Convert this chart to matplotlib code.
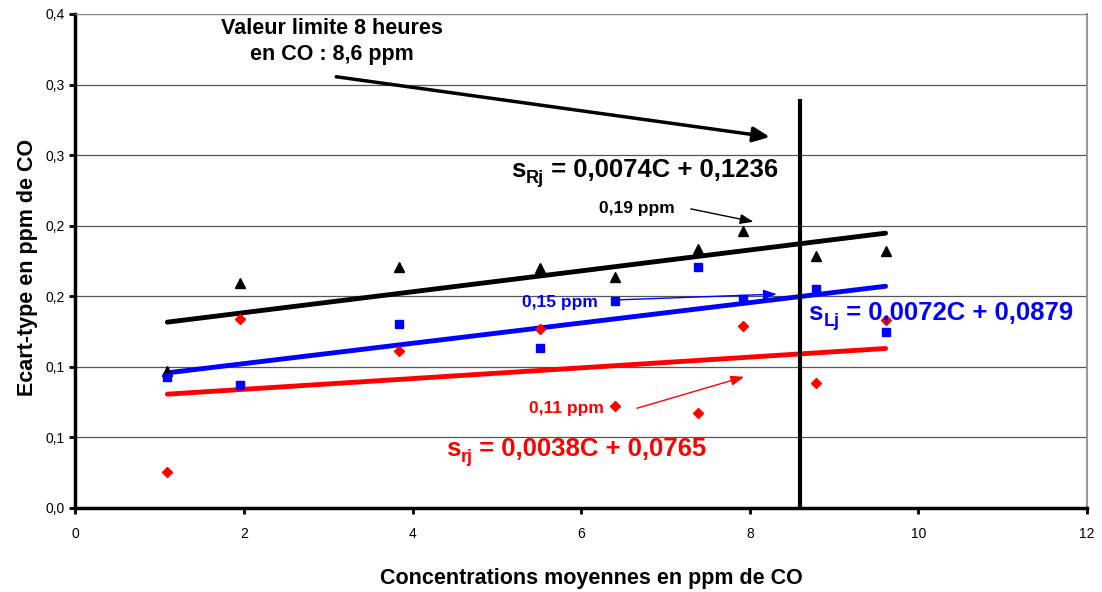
import matplotlib
matplotlib.use("Agg")
import matplotlib.pyplot as plt
import numpy as np

plt.rcParams['font.family'] = ['Liberation Sans', 'DejaVu Sans']

# Data
conc = [1.09, 1.95, 3.84, 5.51, 6.40, 7.39, 7.92, 8.79, 9.61]
s_R = [0.0973, 0.1592, 0.1710, 0.1698, 0.1639, 0.1835, 0.1965, 0.1785, 0.1823]
s_L = [0.0930, 0.0871, 0.1304, 0.1131, 0.1469, 0.1710, 0.1481, 0.1549, 0.1249]
s_r = [0.0257, 0.1337, 0.1112, 0.1266, 0.0723, 0.0675, 0.1289, 0.0888, 0.1332]

fit_R = (0.0074, 0.1236)
fit_L = (0.0072, 0.0879)
fit_r = (0.0038, 0.0765)

limit_value = 8.6
limit_top = 0.288

xticks = [0, 2, 4, 6, 8, 10, 12]
yticks = [0.0, 0.05, 0.10, 0.15, 0.20, 0.25, 0.30, 0.35]
ytick_labels = ["0,0", "0,1", "0,1", "0,2", "0,2", "0,3", "0,3", "0,4"]

fig = plt.figure(figsize=(11.02, 5.92), dpi=100)
ax = fig.add_axes([0.0685, 0.1419, 0.9179, 0.8345])

ax.set_xlim(0, 12)
ax.set_ylim(0, 0.35)
ax.set_yticks(yticks)
ax.set_yticklabels(ytick_labels)
ax.set_xticks(xticks)
ax.set_xticklabels([str(t) for t in xticks])
ax.tick_params(axis='both', direction='out', length=4, width=2, labelsize=10, color='black')
ax.tick_params(axis='x', pad=10)

for y in yticks[1:]:
    ax.axhline(y, color='#555555', lw=0.9, zorder=0)
ax.axhline(0.35, color='#888888', lw=1.2, zorder=0)

ax.spines['left'].set_linewidth(2.5)
ax.spines['bottom'].set_linewidth(2.5)
ax.spines['top'].set_color('#888888')
ax.spines['right'].set_color('#999999')
ax.spines['right'].set_linewidth(1.5)

xf = np.array([conc[0], conc[-1]])
ax.plot(xf, fit_R[0] * xf + fit_R[1], color='black', lw=3.5, solid_capstyle='round', zorder=3)
ax.plot(xf, fit_L[0] * xf + fit_L[1], color='#0000ff', lw=3.5, solid_capstyle='round', zorder=3)
ax.plot(xf, fit_r[0] * xf + fit_r[1], color='#ff0000', lw=3.5, solid_capstyle='round', zorder=3)

ax.plot(conc, s_R, linestyle='none', marker='^', color='black', ms=7, zorder=4)
ax.plot(conc, s_L, linestyle='none', marker='s', color='#0000ff', ms=6, zorder=4)
ax.plot(conc, s_r, linestyle='none', marker='D', color='#ff0000', ms=5.5, zorder=4)

ax.plot([limit_value, limit_value], [0, limit_top], color='black', lw=3, zorder=5)


def equation(x, y, sub, rest, color):
    t1 = ax.text(x, y, "s", ha='left', va='bottom', fontsize=18.5, fontweight='bold', color=color, zorder=6)
    t2 = ax.annotate(sub, xy=(1, 0), xycoords=t1, xytext=(0.3, -3.5), textcoords='offset points',
                     ha='left', va='bottom', fontsize=13, fontweight='bold', color=color, zorder=6)
    ax.annotate(rest, xy=(1, 0), xycoords=(t2, t1), xytext=(0, 0), textcoords='offset points',
                ha='left', va='bottom', fontsize=18.5, fontweight='bold', color=color, zorder=6)


# Annotations
ax.text(3.04, 0.3356, "Valeur limite 8 heures", ha='center', va='baseline', fontsize=15.5, fontweight='bold')
ax.text(3.04, 0.3174, "en CO : 8,6 ppm", ha='center', va='baseline', fontsize=15.5, fontweight='bold')
ax.annotate("", xy=(8.27, 0.2626), xytext=(3.06, 0.3058),
            arrowprops=dict(arrowstyle='-|>,head_length=1.0,head_width=0.45', color='black', lw=2.5))

equation(5.163, 0.2310, "Rj", " = 0,0074C + 0,1236", 'black')
ax.text(6.66, 0.2088, "0,19 ppm", ha='center', va='baseline', fontsize=12.5, fontweight='bold')
ax.annotate("", xy=(8.075, 0.2024), xytext=(7.267, 0.2123),
            arrowprops=dict(arrowstyle='-|>,head_length=0.8,head_width=0.3', color='black', lw=1))

ax.text(5.75, 0.1426, "0,15 ppm", ha='center', va='baseline', fontsize=12.5, fontweight='bold', color='#0000ff')
ax.annotate("", xy=(8.352, 0.1516), xytext=(6.41, 0.1474),
            arrowprops=dict(arrowstyle='-|>,head_length=0.8,head_width=0.3', color='#0000ff', lw=1))
equation(8.696, 0.1295, "Lj", " = 0,0072C + 0,0879", '#0000ff')

ax.text(5.82, 0.0675, "0,11 ppm", ha='center', va='baseline', fontsize=12.5, fontweight='bold', color='#ff0000')
ax.annotate("", xy=(7.964, 0.0935), xytext=(6.629, 0.0701),
            arrowprops=dict(arrowstyle='-|>,head_length=0.8,head_width=0.3', color='#ff0000', lw=1))
equation(4.391, 0.0331, "rj", " = 0,0038C + 0,0765", '#ff0000')

fig.text(591 / 1102, 1 - 584 / 592, "Concentrations moyennes en ppm de CO", ha='center', va='baseline',
         fontsize=15.5, fontweight='bold')
fig.text(27.5 / 1102, 1 - 267 / 592, "Ecart-type en ppm de CO", ha='center', va='center', rotation=90,
         fontsize=15.5, fontweight='bold')

fig.savefig("out.png", dpi=100)
